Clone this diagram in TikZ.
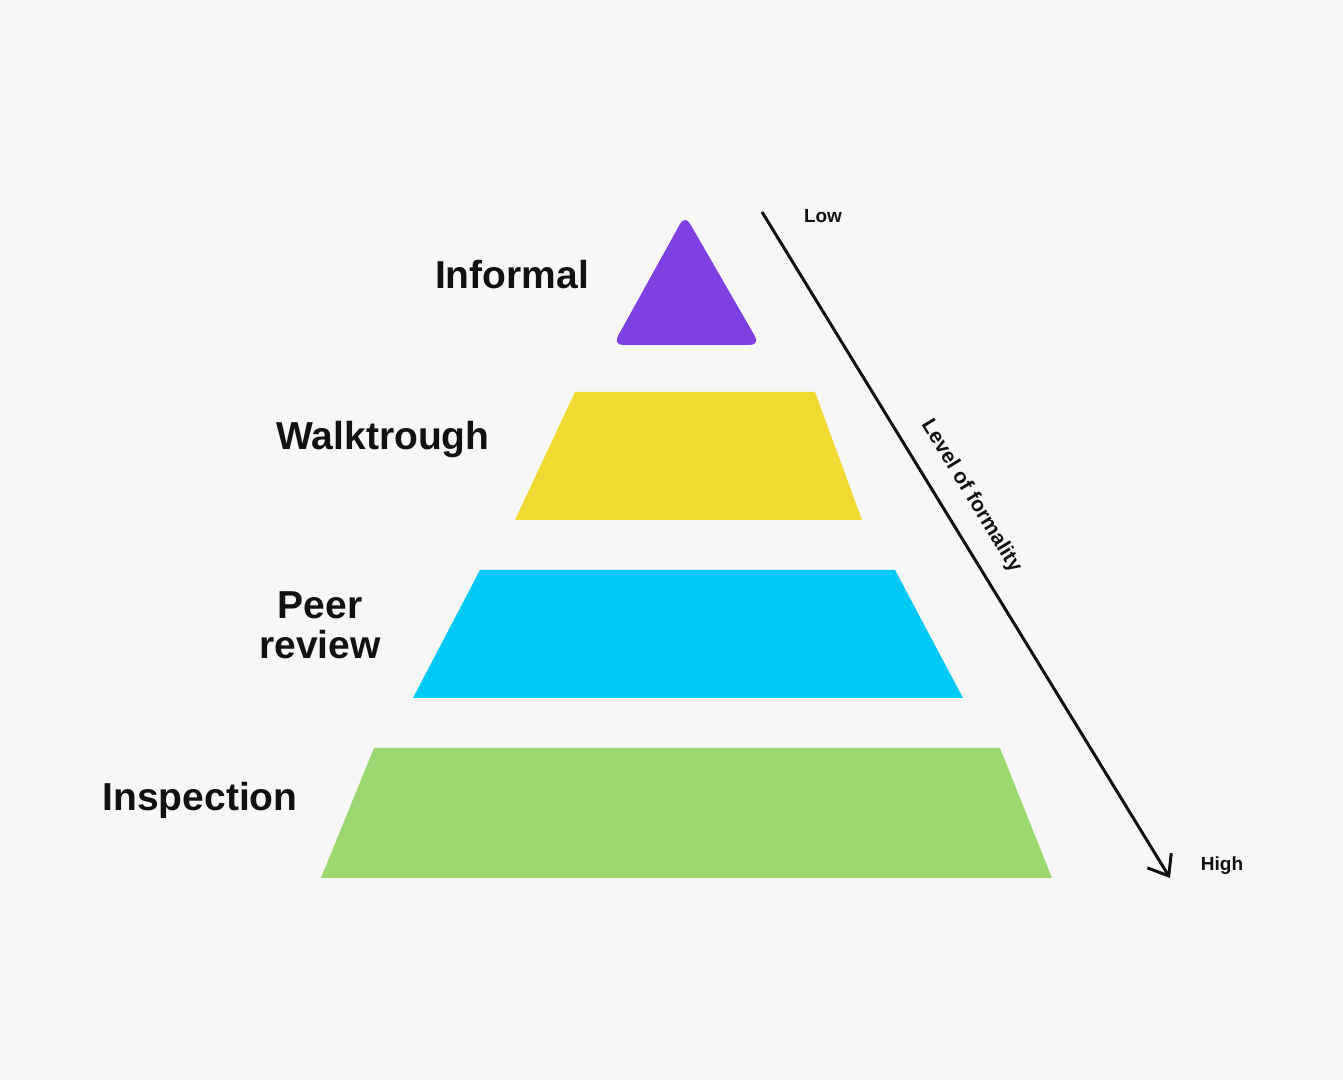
\documentclass[tikz,border=0pt]{standalone}
\usepackage{fontspec}
\setmainfont{Liberation Sans}
\usepackage{tikz}
\usetikzlibrary{positioning, arrows.meta}
\definecolor{bggray}{HTML}{F7F7F7}
\definecolor{tierpurple}{HTML}{7E40E2}
\definecolor{tieryellow}{HTML}{EEDA30}
\definecolor{tiercyan}{HTML}{00C8F7}
\definecolor{tiergreen}{HTML}{9DD772}
\definecolor{inkblack}{HTML}{111111}

\begin{document}
\begin{tikzpicture}[x=0.5pt, y=0.5pt,
    tierlabel/.style={font=\bfseries\fontsize{19.5}{20}\selectfont, text=inkblack, align=center},
    scalelabel/.style={font=\bfseries\fontsize{9.5}{11}\selectfont, text=inkblack}]
    % canvas
    \useasboundingbox (0,0) rectangle (1343,1080);
    \fill[bggray] (0,0) rectangle (1343,1080);

    % pyramid tiers
    \fill[tierpurple, rounded corners=5pt] (685,865) -- (760,735) -- (613,735) -- cycle;
    \fill[tieryellow] (575,688) -- (815,688) -- (862,560) -- (515,560) -- cycle;
    \fill[tiercyan] (480,510) -- (895,510) -- (963,382) -- (413,382) -- cycle;
    \fill[tiergreen] (374,332) -- (1000,332) -- (1052,202) -- (321,202) -- cycle;

    % tier labels
    \node[tierlabel] (informal) at (512,805) {Informal};
    \node[tierlabel] (walk) at (383,640) {Walktrough};
    \node[tierlabel] (peer) at (320,455) {Peer\\review};
    \node[tierlabel] (inspect) at (200,280) {Inspection};

    % formality scale
    \coordinate (low) at (762,868);
    \coordinate (high) at (1170,202);
    \draw[inkblack, line width=1.5pt, -{Straight Barb[length=9pt, width=14pt, line width=1.5pt]}]
      (low) -- node[pos=0.45, sloped, above=6pt, scalelabel, font=\bfseries\fontsize{10.5}{12}\selectfont] (formality) {Level of formality} (high);
    \node[scalelabel] (lowlabel) at (823,864) {Low};
    \node[scalelabel] (highlabel) at (1222,214) {High};
\end{tikzpicture}
\end{document}
